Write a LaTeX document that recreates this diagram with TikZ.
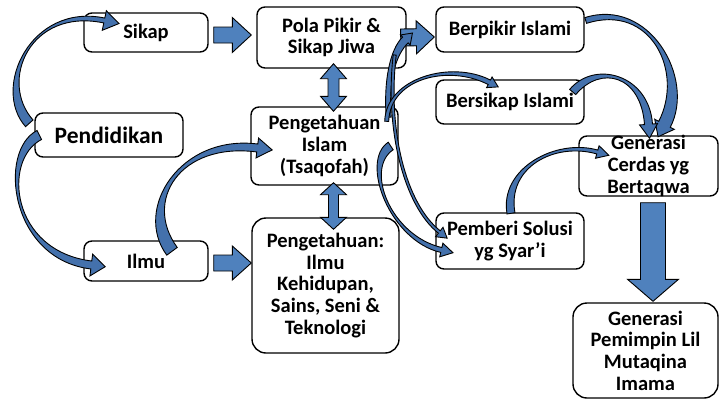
\documentclass[tikz,border=0pt]{standalone}
\usepackage{fontspec}
\setmainfont{Carlito}
\usetikzlibrary{calc}
\definecolor{arrowblue}{RGB}{79,129,189}
\definecolor{curveblue}{RGB}{68,113,172}

\tikzset{
  box/.style={draw, line width=1.4pt, rounded corners=8pt, fill=white, align=center,
    inner xsep=0pt, inner ysep=-4pt, font=\fontsize{20.5}{21.7}\selectfont\bfseries},
  bigbox/.style={box, rounded corners=14pt},
  blockfill/.style={fill=arrowblue, draw=black, line width=0.9pt, line join=miter},
  curvefill/.style={fill=curveblue, draw=black, line width=0.9pt, line join=miter},
}

% bent arrow: tail, control, control, head base, tail half width, base half width, head half width, head length
\newcommand\bentarrow[8]{%
  \coordinate (p0) at #1; \coordinate (p1) at #2;
  \coordinate (p2) at #3; \coordinate (p3) at #4;
  \coordinate (l0) at ($(p0)!#5!90:(p1)$);
  \coordinate (r0) at ($(p0)!#5!-90:(p1)$);
  \coordinate (l3) at ($(p3)!#6!-90:(p2)$);
  \coordinate (r3) at ($(p3)!#6!90:(p2)$);
  \filldraw[curvefill] (l0) .. controls ($(p1)+(l0)-(p0)$) and ($(p2)+(l3)-(p3)$) .. (l3)
    -- ($(p3)!#7!-90:(p2)$) -- ($(p3)!-#8!(p2)$) -- ($(p3)!#7!90:(p2)$)
    -- (r3) .. controls ($(p2)+(r3)-(p3)$) and ($(p1)+(r0)-(p0)$) .. (r0) -- cycle;
}
% straight block arrow: tail, tip, shaft half width, head half width, head length
\newcommand\blockarrow[5]{%
  \coordinate (q0) at #1; \coordinate (q1) at #2;
  \coordinate (qh) at ($(q1)!#5!(q0)$);
  \filldraw[blockfill] ($(q0)!#3!90:(q1)$) -- ($(qh)!#3!90:(q1)$) -- ($(qh)!#4!90:(q1)$) -- (q1)
    -- ($(qh)!#4!-90:(q1)$) -- ($(qh)!#3!-90:(q1)$) -- ($(q0)!#3!-90:(q1)$) -- cycle;
}
% two way block arrow: end, end, shaft half width, head half width, head length
\newcommand\twowayarrow[5]{%
  \coordinate (q0) at #1; \coordinate (q1) at #2;
  \coordinate (qa) at ($(q0)!#5!(q1)$); \coordinate (qb) at ($(q1)!#5!(q0)$);
  \filldraw[blockfill] (q0) -- ($(qa)!#4!90:(q1)$) -- ($(qa)!#3!90:(q1)$) -- ($(qb)!#3!-90:(q0)$)
    -- ($(qb)!#4!-90:(q0)$) -- (q1) -- ($(qb)!#4!90:(q0)$) -- ($(qb)!#3!90:(q0)$)
    -- ($(qa)!#3!-90:(q1)$) -- ($(qa)!#4!-90:(q1)$) -- cycle;
}

\begin{document}
\begin{tikzpicture}[x=1pt, y=-1pt]
	%%%%% START %%%%%
	\useasboundingbox (0,0) rectangle (720,399);

	\node[box, minimum width=124pt, minimum height=39pt] (sikap) at (146,32.5) {Sikap};
	\node[box, minimum width=148pt, minimum height=44pt, font=\fontsize{23.5}{25}\selectfont\bfseries] (pend) at (109,135) {Pendidikan};
	\node[box, minimum width=124pt, minimum height=40pt] (ilmu) at (146,261) {Ilmu};

	\node[box, minimum width=149pt, minimum height=61pt] (pola) at (331.5,37.5) {Pola Pikir \&\\Sikap Jiwa};
	\node[box, minimum width=147pt, minimum height=78pt] (islam) at (324.5,146) {Pengetahuan\\Islam\\(Tsaqofah)};
	\node[bigbox, minimum width=147pt, minimum height=135pt] (ilmuk) at (325.5,285.5) {Pengetahuan:\\Ilmu\\Kehidupan,\\Sains, Seni \&\\Teknologi};

	\node[box, minimum width=148pt, minimum height=45pt] (berpikir) at (510,29.5) {Berpikir Islami};
	\node[box, minimum width=148pt, minimum height=44pt] (bersikap) at (510,102) {Bersikap Islami};
	\node[box, minimum width=148pt, minimum height=56pt] (pemberi) at (510,241) {Pemberi Solusi\\yg Syar’i};

	\node[box, minimum width=139pt, minimum height=60pt] (cerdas) at (648.5,166) {Generasi\\Cerdas yg\\Bertaqwa};
	\node[bigbox, minimum width=145pt, minimum height=95pt] (pemimpin) at (645.5,350.5) {Generasi\\Pemimpin Lil\\Mutaqina\\Imama};

	% straight arrows
	\blockarrow{($(sikap.east)+(5,2.5)$)}{($(pola.west)+(-5,-2.5)$)}{8pt}{17.5pt}{19pt}
	\blockarrow{($(ilmu.east)+(5,2)$)}{($(ilmuk.west)+(0,-22.5)$)}{8pt}{17pt}{19pt}
	\blockarrow{($(pola.east)+(-6,0)$)}{($(berpikir.west)+(-1,7.5)$)}{8.5pt}{16.5pt}{18pt}
	\blockarrow{($(cerdas.south)+(4.5,6)$)}{($(pemimpin.north)+(7.5,-1)$)}{12.5pt}{25.5pt}{22pt}
	\twowayarrow{($(pola.south)+(2,-5)$)}{($(islam.north)+(9,5)$)}{5.5pt}{13pt}{15pt}
	\twowayarrow{($(islam.south)+(9,-3)$)}{($(ilmuk.north)+(8,12)$)}{5pt}{13pt}{12pt}

	% bent arrows
	\bentarrow{($(pend.north west)+(-5,11)$)}{(-5,85)}{(30,5)}{($(sikap.west)+(21,-12)$)}{5pt}{2.5pt}{10pt}{15pt}
	\bentarrow{($(pend.west)+(5,0)$)}{(0,155)}{(10,255)}{($(ilmu.west)+(8,4)$)}{5pt}{4pt}{11pt}{14pt}
	\bentarrow{($(ilmu.north)+(26,11)$)}{(138,205)}{(180,138)}{($(islam.west)+(7,2)$)}{6.5pt}{4pt}{10pt}{15pt}
	\bentarrow{($(berpikir.east)+(1,-9)$)}{(650,0)}{(690,75)}{($(cerdas.north)+(16,-11)$)}{3pt}{6.5pt}{11pt}{14pt}
	\bentarrow{($(bersikap.east)+(-12,-10)$)}{(598,62)}{(645,75)}{($(cerdas.north)+(0,-11)$)}{4pt}{4pt}{9pt}{14pt}
	\bentarrow{($(pemberi.north)+(1,1)$)}{(503,168)}{(555,140)}{($(cerdas.west)+(19,-14)$)}{4pt}{2pt}{6.5pt}{12pt}
	\bentarrow{($(islam.north east)+(-10,11)$)}{(386,80)}{(393,52)}{($(berpikir.west)+(-30,10.5)$)}{2.5pt}{4pt}{7pt}{10pt}
	\bentarrow{($(pola.east)+(-12,17.5)$)}{(386,130)}{(405,205)}{($(pemberi.west)+(4,-9)$)}{1.5pt}{1.5pt}{6pt}{10pt}
	\bentarrow{($(islam.east)+(-8,0)$)}{(362,165)}{(390,238)}{($(pemberi.west)+(6,9)$)}{4.5pt}{2.5pt}{7pt}{12pt}
	\bentarrow{($(islam.north east)+(-12,15)$)}{(388,78)}{(450,62)}{($(bersikap.north west)+(54,3)$)}{2pt}{2.5pt}{6pt}{10pt}
	%%%%% END %%%%%
\end{tikzpicture}
\end{document}
